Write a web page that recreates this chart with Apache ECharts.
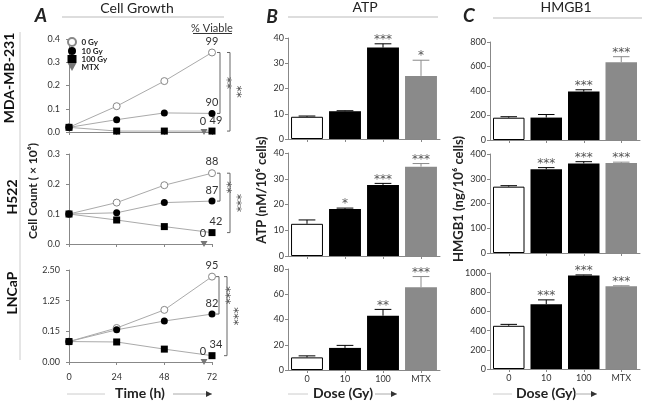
<!DOCTYPE html>
<html>
<head>
<meta charset="utf-8">
<script src="https://cdn.jsdelivr.net/npm/echarts@6/dist/echarts.min.js"></script>
<style>
html, body { margin: 0; padding: 0; background: #fff; }
#main { width: 653px; height: 404px; }
</style>
</head>
<body>
<div id="main"></div>
<script>
// --- data ---
var hours = [0, 24, 48, 72];
var doses = ['0', '10', '100', 'MTX'];
var groupNames = ['0 Gy', '10 Gy', '100 Gy', 'MTX'];

// cell count (x10^6), MDA-MB-231
var mda0 = [0.02, 0.111, 0.219, 0.342];
var mda10 = [0.02, 0.053, 0.082, 0.08];
var mda100 = [0.02, 0.004, 0.004, 0.004];
var mdaMtx72 = 0;
var mdaViable = [99, 90, 49, 0];
var mdaSig = ['**', '**'];

// H522
var h522_0 = [0.1, 0.138, 0.196, 0.236];
var h522_10 = [0.1, 0.104, 0.138, 0.143];
var h522_100 = [0.1, 0.08, 0.058, 0.038];
var h522Mtx72 = 0;
var h522Viable = [88, 87, 42, 0];
var h522Sig = ['**', '***'];

// LNCaP (broken axis)
var ln0 = [0.1, 0.27, 0.92, 2.23];
var ln10 = [0.1, 0.205, 0.52, 0.77];
var ln100 = [0.1, 0.098, 0.063, 0.031];
var lnMtx72 = 0;
var lnViable = [95, 82, 34, 0];
var lnSig = ['***', '***'];
var lnTicks = [0, 0.15, 1.25, 2.5];
var lnTickLabels = ['0.00', '0.15', '1.25', '2.50'];

// ATP (nM/10^6 cells)
var atpMda = [8.8, 11, 36.2, 25];
var atpMdaErr = [0.3, 0.2, 1.5, 6.2];
var atpMdaSig = ['', '', '***', '*'];
var atpH522 = [12.5, 18.3, 27.6, 34.7];
var atpH522Err = [1.5, 0.3, 0.6, 1.2];
var atpH522Sig = ['', '*', '***', '***'];
var atpLn = [10, 17.5, 43, 65.5];
var atpLnErr = [1.2, 2, 5, 8.5];
var atpLnSig = ['', '', '**', '***'];

// HMGB1 (ng/10^6 cells)
var hmgMda = [182, 183, 395, 635];
var hmgMdaErr = [8, 25, 15, 45];
var hmgMdaSig = ['', '', '***', '***'];
var hmgH522 = [268, 338, 362, 364];
var hmgH522Err = [4, 7, 7, 3];
var hmgH522Sig = ['', '***', '***', '***'];
var hmgLn = [450, 675, 975, 862];
var hmgLnErr = [15, 45, 5, 5];
var hmgLnSig = ['', '***', '***', '***'];

var F = "Lato, 'DejaVu Sans', sans-serif";
var STAR = "12px 'DejaVu Sans', sans-serif";
var axisCol = '#888';
var lineCol = '#aaa';

// piecewise scale for the LNCaP broken axis
function lnPos(v) {
  for (var i = 1; i < lnTicks.length; i++) {
    if (v <= lnTicks[i]) return (i - 1) + (v - lnTicks[i - 1]) / (lnTicks[i] - lnTicks[i - 1]);
  }
  return lnTicks.length - 1;
}

var chart = echarts.init(document.getElementById('main'));

var grids = [
  {left: 69, top: 39, width: 143, height: 93},
  {left: 69, top: 154, width: 143, height: 90},
  {left: 69, top: 270, width: 143, height: 92},
  {left: 288, top: 38, width: 152, height: 101},
  {left: 288, top: 153, width: 152, height: 103},
  {left: 288, top: 269, width: 152, height: 101},
  {left: 490, top: 42, width: 150, height: 98},
  {left: 490, top: 154, width: 150, height: 99},
  {left: 490, top: 273, width: 150, height: 96}
];

var tickLabel = {color: '#333', fontSize: 9, fontFamily: F};
var xAxes = [], yAxes = [];

// panel A axes
var xOff = [7, 12, 6];
var yMax = [0.4, 0.3, 3];
for (var i = 0; i < 3; i++) {
  xAxes.push({
    type: 'value', gridIndex: i, min: 0, max: 72, interval: 24, offset: xOff[i],
    axisLine: {show: true, lineStyle: {color: axisCol}},
    axisTick: {show: true, length: 3, lineStyle: {color: axisCol}},
    axisLabel: Object.assign({show: i === 2, margin: 5}, tickLabel),
    splitLine: {show: false}
  });
  yAxes.push({
    type: 'value', gridIndex: i, min: 0, max: yMax[i], interval: i === 2 ? 1 : 0.1, offset: 6,
    axisLine: {show: true, lineStyle: {color: axisCol}},
    axisTick: {show: true, length: 3, lineStyle: {color: axisCol}},
    axisLabel: Object.assign({
      margin: 3,
      formatter: i === 2 ? function (v) { return lnTickLabels[Math.round(v)]; } : function (v) { return v.toFixed(1); }
    }, tickLabel),
    splitLine: {show: false}
  });
}
// panels B and C axes
var barMax = [40, 40, 80, 800, 400, 1000];
var barInt = [10, 10, 20, 200, 100, 200];
for (var j = 0; j < 6; j++) {
  var gi = j + 3;
  xAxes.push({
    type: 'category', gridIndex: gi, data: doses,
    axisLine: {show: true, lineStyle: {color: axisCol}},
    axisTick: {show: true, alignWithLabel: true, length: 3, lineStyle: {color: axisCol}},
    axisLabel: Object.assign({show: j === 2 || j === 5, margin: 5}, tickLabel)
  });
  yAxes.push({
    type: 'value', gridIndex: gi, min: 0, max: barMax[j], interval: barInt[j],
    axisLine: {show: true, lineStyle: {color: axisCol}},
    axisTick: {show: true, length: 3, lineStyle: {color: axisCol}},
    axisLabel: Object.assign({margin: 4, formatter: function (v) { return String(v); }}, tickLabel),
    splitLine: {show: false}
  });
}

var series = [];
var lbl = {show: true, position: 'top', distance: 2, color: '#333', fontSize: 11, fontFamily: F};
var lblShift = [[0, 0], [0, 0], [4, 0], [-1, 0]];

function growth(gi, d0, d10, d100, mtx72, viable, map) {
  map = map || function (v) { return v; };
  function pts(arr, k0) {
    return arr.map(function (v, k) {
      var item = {value: [hours[k], map(v)]};
      if (k === arr.length - 1) item.label = Object.assign({formatter: String(viable[k0]), offset: lblShift[k0]}, lbl);
      return item;
    });
  }
  var common = {type: 'line', xAxisIndex: gi, yAxisIndex: gi, lineStyle: {color: lineCol, width: 1}, animation: false, z: 3};
  series.push(Object.assign({name: groupNames[0], symbol: 'circle', symbolSize: 7,
    itemStyle: {color: '#fff', borderColor: '#888', borderWidth: 1}, data: pts(d0, 0)}, common));
  series.push(Object.assign({name: groupNames[1], symbol: 'circle', symbolSize: 7,
    itemStyle: {color: '#000'}, data: pts(d10, 1)}, common));
  series.push(Object.assign({name: groupNames[2], symbol: 'rect', symbolSize: 7,
    itemStyle: {color: '#000'}, data: pts(d100, 2)}, common));
  series.push(Object.assign({name: groupNames[3], symbol: 'path://M0,0 L10,0 L5,9 Z', symbolSize: [7, 6],
    symbolOffset: [-8, 0], itemStyle: {color: '#777'},
    data: [{value: [72, map(mtx72)], label: Object.assign({formatter: String(viable[3]), offset: lblShift[3]}, lbl)}]}, common));
}
growth(0, mda0, mda10, mda100, mdaMtx72, mdaViable);
growth(1, h522_0, h522_10, h522_100, h522Mtx72, h522Viable);
growth(2, ln0, ln10, ln100, lnMtx72, lnViable, lnPos);

var barFill = ['#fff', '#000', '#000', '#8a8a8a'];
var errCol = ['#000', '#000', '#000', '#8a8a8a'];

function bars(gi, vals, errs, sigs) {
  series.push({
    type: 'bar', xAxisIndex: gi, yAxisIndex: gi, barWidth: '84%', animation: false,
    data: vals.map(function (v, k) {
      return {value: v, itemStyle: {color: barFill[k], borderColor: k === 0 ? '#000' : barFill[k], borderWidth: k === 0 ? 1 : 0}};
    })
  });
  series.push({
    type: 'custom', xAxisIndex: gi, yAxisIndex: gi, animation: false, z: 5,
    data: vals.map(function (v, k) { return [k, v, errs[k]]; }),
    renderItem: function (params, api) {
      var k = params.dataIndex;
      var x = api.value(0), v = api.value(1), e = api.value(2);
      var p0 = api.coord([x, v]), p1 = api.coord([x, v + e]);
      var hw = api.size([1, 0])[0] * 0.22;
      var ch = [];
      ch.push({type: 'line', shape: {x1: p0[0], y1: p0[1], x2: p1[0], y2: p1[1]}, style: {stroke: errCol[k], lineWidth: 1}});
      ch.push({type: 'line', shape: {x1: p1[0] - hw, y1: p1[1], x2: p1[0] + hw, y2: p1[1]}, style: {stroke: errCol[k], lineWidth: 1}});
      if (sigs[k]) {
        ch.push({type: 'text', x: p1[0], y: p1[1] - 4, style: {text: sigs[k], fill: '#555', font: STAR, textAlign: 'center', textVerticalAlign: 'middle'}});
      }
      return {type: 'group', children: ch};
    }
  });
}
bars(3, atpMda, atpMdaErr, atpMdaSig);
bars(4, atpH522, atpH522Err, atpH522Sig);
bars(5, atpLn, atpLnErr, atpLnSig);
bars(6, hmgMda, hmgMdaErr, hmgMdaSig);
bars(7, hmgH522, hmgH522Err, hmgH522Sig);
bars(8, hmgLn, hmgLnErr, hmgLnSig);

chart.setOption({
  animation: false,
  backgroundColor: '#fff',
  grid: grids,
  xAxis: xAxes,
  yAxis: yAxes,
  legend: {
    left: 67, top: 37, orient: 'vertical', itemGap: 0, itemWidth: 9, itemHeight: 8, padding: 0,
    textStyle: {fontSize: 8, fontWeight: 'bold', color: '#222', fontFamily: F},
    data: [
      {name: '0 Gy', icon: 'circle'},
      {name: '10 Gy', icon: 'circle'},
      {name: '100 Gy', icon: 'rect'},
      {name: 'MTX', icon: 'path://M0,0 L10,0 L5,9 Z'}
    ]
  },
  series: series
});

// --- annotations ---
var g = [];
function text(x, y, s, font, opt) {
  g.push({type: 'text', x: x, y: y, rotation: (opt && opt.rot) || 0, silent: true, z: 10,
    style: {text: s, font: font, fill: (opt && opt.fill) || '#222', textAlign: (opt && opt.align) || 'center', textVerticalAlign: 'middle'}});
}
function line(x1, y1, x2, y2, col, w) {
  g.push({type: 'line', silent: true, z: 10, shape: {x1: x1, y1: y1, x2: x2, y2: y2}, style: {stroke: col || '#bbb', lineWidth: w || 1}});
}
function arrow(x1, x2, y) {
  line(x1, y, x2, y, '#aaa', 1);
  g.push({type: 'polygon', silent: true, z: 10, shape: {points: [[x2, y], [x2 - 6, y - 3], [x2 - 6, y + 3]]}, style: {fill: '#333'}});
}

// headers
text(41, 16, 'A', 'italic bold 19px ' + F);
text(137, 8, 'Cell Growth', '14px ' + F);
line(62, 17, 224, 17, '#bbb');
text(272, 17, 'B', 'italic bold 19px ' + F);
text(365, 7, 'ATP', '14px ' + F);
line(288, 17, 438, 17, '#bbb');
text(469, 16, 'C', 'italic bold 19px ' + F);
text(566, 7, 'HMGB1', '14px ' + F);
line(493, 18, 642, 18, '#bbb');

text(212, 28, '% Viable', '11px ' + F, {fill: '#333'});
line(193, 33.5, 232, 33.5, '#333');

// row labels and axis names
text(9, 78, 'MDA-MB-231', 'bold 14px ' + F, {rot: Math.PI / 2, fill: '#111'});
text(12, 197, 'H522', 'bold 14px ' + F, {rot: Math.PI / 2, fill: '#111'});
text(12, 293, 'LNCaP', 'bold 14px ' + F, {rot: Math.PI / 2, fill: '#111'});
line(20, 32, 20, 360, '#ccc');
text(33, 191, 'Cell Count ( \u00d7 10\u2076)', 'bold 12px ' + F, {rot: Math.PI / 2});
text(262, 190, 'ATP (nM/10\u2076 cells)', 'bold 13px ' + F, {rot: Math.PI / 2});
text(459, 199, 'HMGB1 (ng/10\u2076 cells)', 'bold 13px ' + F, {rot: Math.PI / 2});

// x titles
text(140, 393, 'Time (h)', 'bold 14px ' + F);
line(67, 394, 105, 394, '#ccc');
arrow(173, 212, 394);
text(343, 393, 'Dose (Gy)', 'bold 14px ' + F);
line(288, 394, 308, 394, '#ccc');
arrow(375, 397, 394);
text(546, 393, 'Dose (Gy)', 'bold 14px ' + F);
line(493, 394, 512, 394, '#ccc');
arrow(575, 597, 394);

// significance brackets at 72 h
function bracket(gi, yTop, yBot, dx, sig) {
  var a = chart.convertToPixel({gridIndex: gi}, [72, yTop]);
  var b = chart.convertToPixel({gridIndex: gi}, [72, yBot]);
  var x = a[0] + dx;
  line(x - 3, a[1], x, a[1], '#666');
  line(x, a[1], x, b[1], '#666');
  line(x - 3, b[1], x, b[1], '#666');
  text(x + 6, (a[1] + b[1]) / 2, sig, STAR, {rot: -Math.PI / 2, fill: '#444'});
}
bracket(0, mda0[3], mda10[3], 8, mdaSig[0]);
bracket(0, mda0[3], mda100[3], 18, mdaSig[1]);
bracket(1, h522_0[3], h522_10[3], 8, h522Sig[0]);
bracket(1, h522_0[3], h522_100[3], 18, h522Sig[1]);
bracket(2, lnPos(ln0[3]), lnPos(ln10[3]), 7, lnSig[0]);
bracket(2, lnPos(ln0[3]), lnPos(ln100[3]), 15, lnSig[1]);

chart.setOption({graphic: g});
</script>
</body>
</html>
